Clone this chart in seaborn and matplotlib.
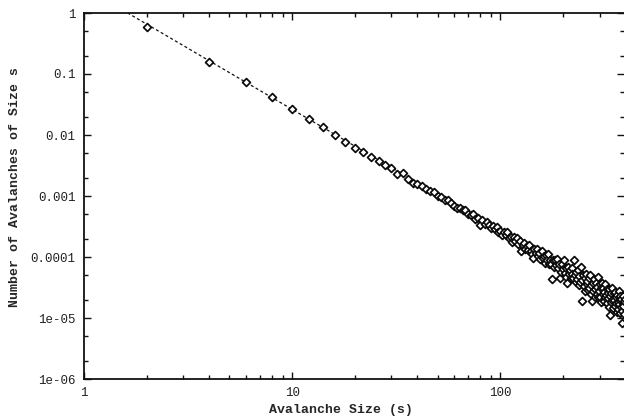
import matplotlib
matplotlib.use("Agg")
from matplotlib import pyplot as plt
import seaborn as sns
import pandas as pd
import numpy as np

sizes = list(range(2, 398, 2))
freq = [
    0.597, 0.157, 0.0731, 0.0415, 0.0264, 0.0181, 0.01337, 0.01012, 0.00776, 0.00619,
    0.0052, 0.0043, 0.00375, 0.00318, 0.00284, 0.0023, 0.00241, 0.00188, 0.00166, 0.00158,
    0.00145, 0.00129,
    1.21e-3, 1.16e-3, 1.01e-3, 9.63e-4, 8.57e-4, 8.47e-4, 7.59e-4, 6.87e-4, 6.29e-4, 6.42e-4,
    5.80e-4, 5.86e-4, 5.10e-4, 4.97e-4, 4.99e-4, 4.23e-4, 4.28e-4, 3.29e-4, 4.07e-4, 3.54e-4,
    3.77e-4, 3.30e-4, 2.99e-4, 3.27e-4, 2.86e-4, 3.08e-4, 2.58e-4, 2.68e-4,
    2.28e-4, 2.60e-4, 2.27e-4, 2.61e-4, 2.02e-4, 2.16e-4, 1.78e-4, 2.13e-4, 1.81e-4, 2.05e-4,
    1.61e-4, 1.80e-4, 1.26e-4, 1.58e-4, 1.72e-4, 1.34e-4, 1.52e-4, 1.32e-4, 1.56e-4, 1.27e-4,
    1.13e-4, 9.65e-5, 1.33e-4, 1.16e-4, 1.35e-4, 1.03e-4, 1.18e-4, 9.29e-5, 1.24e-4, 9.68e-5,
    1.02e-4, 8.12e-5, 1.07e-4, 8.85e-5, 1.10e-4, 7.82e-5, 9.04e-5, 7.81e-5, 4.40e-5, 8.93e-5,
    6.75e-5, 9.01e-5, 7.37e-5, 9.30e-5, 6.56e-5, 7.63e-5, 4.47e-5, 5.69e-5, 7.65e-5, 6.25e-5,
    9.02e-5, 5.56e-5, 6.57e-5, 4.74e-5, 3.81e-5, 6.96e-5, 5.34e-5, 6.09e-5, 4.53e-5, 6.68e-5,
    5.18e-5, 4.51e-5, 8.91e-5, 5.16e-5, 3.93e-5, 5.62e-5, 4.32e-5, 6.04e-5, 3.48e-5, 4.80e-5,
    3.95e-5, 6.90e-5, 4.18e-5, 1.88e-5, 5.05e-5, 3.35e-5, 4.49e-5, 2.81e-5, 5.21e-5, 3.62e-5,
    4.02e-5, 2.87e-5, 4.54e-5, 3.15e-5, 5.05e-5, 3.48e-5, 2.52e-5, 1.90e-5, 3.81e-5, 2.81e-5,
    4.30e-5, 3.00e-5, 2.19e-5, 3.74e-5, 2.50e-5, 3.23e-5, 2.25e-5, 4.68e-5, 2.81e-5, 3.65e-5,
    2.25e-5, 3.08e-5, 1.85e-5, 3.74e-5, 2.44e-5, 3.11e-5, 1.92e-5, 2.68e-5, 2.18e-5, 3.65e-5,
    2.36e-5, 1.76e-5, 2.96e-5, 2.10e-5, 2.55e-5, 1.51e-5, 3.02e-5, 2.26e-5, 1.10e-5, 2.54e-5,
    1.80e-5, 3.06e-5, 1.98e-5, 1.48e-5, 2.54e-5, 1.99e-5, 1.58e-5, 2.70e-5, 1.74e-5, 2.19e-5,
    1.25e-5, 2.42e-5, 1.80e-5, 1.40e-5, 2.78e-5, 1.67e-5, 1.97e-5, 1.23e-5, 2.30e-5, 1.49e-5,
    2.02e-5, 1.32e-5, 8.30e-6, 2.31e-5, 1.56e-5, 1.88e-5, 1.18e-5, 2.02e-5,
]

# power law fit P(s) = A * s^-tau drawn as the dashed line
fit_amp = 2.63
fit_tau = 2.0
fit_range = [1.0, 400.0]

x_ticks = [1, 10, 100]
x_labels = ["1", "10", "100"]
y_ticks = [1, 0.1, 0.01, 0.001, 0.0001, 1e-05, 1e-06]
y_labels = ["1", "0.1", "0.01", "0.001", "0.0001", "1e-05", "1e-06"]

df = pd.DataFrame({"size": sizes, "freq": freq})
fit_s = np.array(fit_range)
fit_df = pd.DataFrame({"size": fit_s, "freq": fit_amp * fit_s ** -fit_tau})

sns.set_theme(style="ticks")
plt.rcParams["font.family"] = ["Liberation Mono", "DejaVu Sans Mono"]

fig = plt.figure(figsize=(6.24, 4.19), dpi=100)
ax = fig.add_axes([84 / 624, 1 - 379 / 419, 540 / 624, 366 / 419])
ax.set(xscale="log", yscale="log")

sns.lineplot(data=fit_df, x="size", y="freq", ax=ax, color="#111111",
             linewidth=0.9, linestyle=(0, (2.4, 2.0)), zorder=2)
sns.scatterplot(data=df, x="size", y="freq", ax=ax, marker="D", s=16,
                facecolor="white", edgecolor="#0a0a0a", linewidth=1.25, zorder=3)

ax.set_xlim(1, 393)
ax.set_ylim(1e-6, 1)

ax.set_xticks(x_ticks)
ax.set_xticklabels(x_labels)
ax.set_yticks(y_ticks)
ax.set_yticklabels(y_labels)
ax.xaxis.set_minor_locator(matplotlib.ticker.LogLocator(base=10, subs=np.arange(2, 10)))
ax.yaxis.set_minor_locator(matplotlib.ticker.LogLocator(base=10, subs=[2, 5]))
ax.xaxis.set_minor_formatter(matplotlib.ticker.NullFormatter())
ax.yaxis.set_minor_formatter(matplotlib.ticker.NullFormatter())

ax.tick_params(which="both", direction="in", top=True, right=True,
               color="#111111", width=1.0, labelsize=9, labelcolor="#222222")
ax.tick_params(which="major", length=5, pad=6)
ax.tick_params(which="minor", length=3)

for side in ["left", "bottom", "top"]:
    ax.spines[side].set_linewidth(1.3)
    ax.spines[side].set_color("#111111")
ax.spines["right"].set_visible(False)

ax.set_xlabel("Avalanche Size (s)", fontsize=9.5, fontweight="bold", va="center")
ax.set_ylabel("Number of Avalanches of Size s", fontsize=9.5, fontweight="bold", va="center")
ax.xaxis.set_label_coords((341 - 84) / 540, (379 - 410) / 366)
ax.yaxis.set_label_coords((15 - 84) / 540, (379 - 187) / 366)

fig.savefig("out.png", dpi=100)
